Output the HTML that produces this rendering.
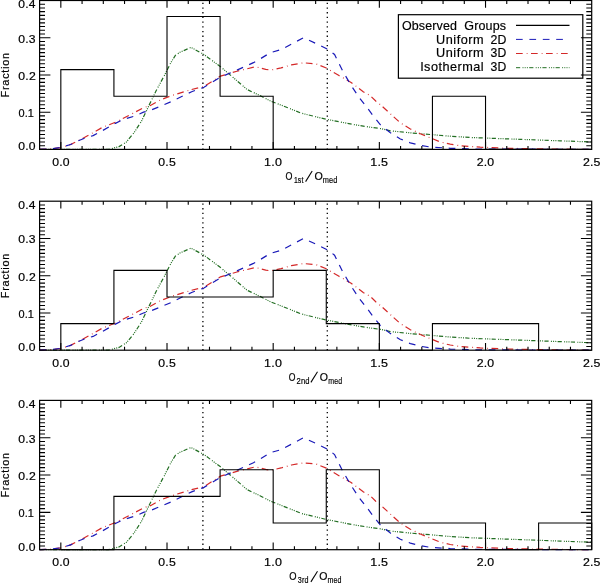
<!DOCTYPE html>
<html><head><meta charset="utf-8"><style>
html,body{margin:0;padding:0;background:#fff;width:600px;height:583px;overflow:hidden}
svg{display:block;will-change:transform}
text{font-family:"Liberation Sans", sans-serif;fill:#000;stroke:#000;stroke-width:0.18px;font-kerning:none;font-variant-ligatures:none}
</style></head><body>
<svg width="600" height="583" viewBox="0 0 600 583">
<rect width="600" height="583" fill="#fff"/>
<line x1="202.9" y1="2.70" x2="202.9" y2="149.4" stroke="#000" stroke-width="1.3" stroke-dasharray="1.3 3.4"/>
<line x1="327.3" y1="2.70" x2="327.3" y2="149.4" stroke="#000" stroke-width="1.3" stroke-dasharray="1.3 3.4"/>
<polyline points="39.60,149.40 108.40,149.40 119.02,146.61 126.45,141.96 134.09,132.65 141.53,121.11 149.17,105.10 156.60,89.84 164.25,75.69 170.83,62.67 175.50,55.22 179.96,52.24 191.00,47.40 203.96,54.48 220.52,66.76 232.84,77.18 247.06,89.47 260.44,95.80 270.42,101.01 281.04,105.10 301.64,113.29 326.27,119.25 353.02,124.46 370.44,127.25 380.42,128.55 390.40,130.79 410.36,132.83 430.32,134.51 450.28,136.22 470.24,137.49 490.20,138.23 520.35,139.35 560.27,140.84 591.70,141.96" fill="none" stroke="#226e22" stroke-width="1.2" stroke-dasharray="4.2 2.3 1 1.2 1 1.2 1 1.3"/>
<polyline points="39.60,149.40 50.22,149.03 60.83,147.54 70.60,144.56 81.64,138.98 93.11,132.65 102.24,127.44 107.98,125.20 115.41,122.23 122.84,118.50 135.16,112.18 143.44,107.71 150.44,105.47 160.42,99.89 171.04,95.80 191.64,89.47 203.96,86.49 220.52,76.07 236.87,71.23 255.56,66.76 265.75,69.37 270.84,70.11 281.04,67.88 291.44,64.90 303.55,62.81 316.07,63.89 326.27,68.03 338.58,75.32 351.11,82.40 363.22,91.70 370.44,95.80 375.74,101.01 380.42,104.73 390.40,113.85 400.38,122.82 410.36,128.93 420.34,133.77 430.32,137.86 440.30,141.96 450.28,144.19 460.26,145.79 480.22,147.17 506.76,148.28 549.23,149.03 591.70,149.40" fill="none" stroke="#d42828" stroke-width="1.2" stroke-dasharray="6.7 4 0.8 3.5"/>
<polyline points="39.60,149.40 50.22,149.03 60.83,147.54 70.60,144.56 78.03,140.84 85.47,137.86 93.11,135.63 102.24,130.79 115.41,123.34 122.84,119.62 135.16,115.90 143.44,112.18 150.44,110.31 160.42,106.22 171.04,101.75 191.64,91.70 203.96,87.23 220.52,77.18 236.87,70.11 253.43,62.67 260.44,58.72 270.42,52.61 281.04,49.64 292.29,43.68 303.55,37.73 317.99,44.43 328.39,49.64 334.55,54.48 342.83,71.23 351.11,85.37 359.18,97.66 367.46,108.08 372.35,114.78 380.42,124.83 390.40,132.83 400.38,138.98 410.36,142.81 420.34,145.42 430.32,147.02 450.28,148.28 474.91,149.03 591.70,149.40" fill="none" stroke="#1a1ab8" stroke-width="1.2" stroke-dasharray="6.7 6.7"/>
<path d="M60.83,149.40 L60.83,69.63 L113.92,69.63 L113.92,96.22 L167.01,96.22 L167.01,16.45 L220.09,16.45 L220.09,96.22 L273.18,96.22 L273.18,149.40 L326.27,149.40 L326.27,149.40 L379.35,149.40 L379.35,149.40 L432.44,149.40 L432.44,96.22 L485.53,96.22 L485.53,149.40 L538.61,149.40 L538.61,149.40 L591.70,149.40 L591.70,149.40" fill="none" stroke="#000" stroke-width="1.1"/>
<rect x="39.6" y="0.5" width="552.10" height="148.90" fill="none" stroke="#000" stroke-width="1.2"/>
<path d="M39.6,145.68h5.4M591.7,145.68h-5.4M39.6,141.96h5.4M591.7,141.96h-5.4M39.6,138.23h5.4M591.7,138.23h-5.4M39.6,134.51h5.4M591.7,134.51h-5.4M39.6,130.79h5.4M591.7,130.79h-5.4M39.6,127.07h5.4M591.7,127.07h-5.4M39.6,123.34h5.4M591.7,123.34h-5.4M39.6,119.62h5.4M591.7,119.62h-5.4M39.6,115.90h5.4M591.7,115.90h-5.4M39.6,112.18h10.8M591.7,112.18h-10.8M39.6,108.45h5.4M591.7,108.45h-5.4M39.6,104.73h5.4M591.7,104.73h-5.4M39.6,101.01h5.4M591.7,101.01h-5.4M39.6,97.28h5.4M591.7,97.28h-5.4M39.6,93.56h5.4M591.7,93.56h-5.4M39.6,89.84h5.4M591.7,89.84h-5.4M39.6,86.12h5.4M591.7,86.12h-5.4M39.6,82.40h5.4M591.7,82.40h-5.4M39.6,78.67h5.4M591.7,78.67h-5.4M39.6,74.95h10.8M591.7,74.95h-10.8M39.6,71.23h5.4M591.7,71.23h-5.4M39.6,67.51h5.4M591.7,67.51h-5.4M39.6,63.78h5.4M591.7,63.78h-5.4M39.6,60.06h5.4M591.7,60.06h-5.4M39.6,56.34h5.4M591.7,56.34h-5.4M39.6,52.61h5.4M591.7,52.61h-5.4M39.6,48.89h5.4M591.7,48.89h-5.4M39.6,45.17h5.4M591.7,45.17h-5.4M39.6,41.45h5.4M591.7,41.45h-5.4M39.6,37.73h10.8M591.7,37.73h-10.8M39.6,34.00h5.4M591.7,34.00h-5.4M39.6,30.28h5.4M591.7,30.28h-5.4M39.6,26.56h5.4M591.7,26.56h-5.4M39.6,22.83h5.4M591.7,22.83h-5.4M39.6,19.11h5.4M591.7,19.11h-5.4M39.6,15.39h5.4M591.7,15.39h-5.4M39.6,11.67h5.4M591.7,11.67h-5.4M39.6,7.95h5.4M591.7,7.95h-5.4M39.6,4.22h5.4M591.7,4.22h-5.4M60.83,149.4v-7.3M60.83,0.5v7.3M82.07,149.4v-3.5M82.07,0.5v3.5M103.30,149.4v-3.5M103.30,0.5v3.5M124.54,149.4v-3.5M124.54,0.5v3.5M145.77,149.4v-3.5M145.77,0.5v3.5M167.01,149.4v-7.3M167.01,0.5v7.3M188.24,149.4v-3.5M188.24,0.5v3.5M209.48,149.4v-3.5M209.48,0.5v3.5M230.71,149.4v-3.5M230.71,0.5v3.5M251.95,149.4v-3.5M251.95,0.5v3.5M273.18,149.4v-7.3M273.18,0.5v7.3M294.42,149.4v-3.5M294.42,0.5v3.5M315.65,149.4v-3.5M315.65,0.5v3.5M336.88,149.4v-3.5M336.88,0.5v3.5M358.12,149.4v-3.5M358.12,0.5v3.5M379.35,149.4v-7.3M379.35,0.5v7.3M400.59,149.4v-3.5M400.59,0.5v3.5M421.82,149.4v-3.5M421.82,0.5v3.5M443.06,149.4v-3.5M443.06,0.5v3.5M464.29,149.4v-3.5M464.29,0.5v3.5M485.53,149.4v-7.3M485.53,0.5v7.3M506.76,149.4v-3.5M506.76,0.5v3.5M528.00,149.4v-3.5M528.00,0.5v3.5M549.23,149.4v-3.5M549.23,0.5v3.5M570.47,149.4v-3.5M570.47,0.5v3.5" stroke="#000" stroke-width="1.1" fill="none"/>
<text transform="translate(18.80,150.20) scale(1.1473,1)" x="-0.41" y="0" font-size="10.6" letter-spacing="0.150">0.0</text>
<text transform="translate(18.80,116.98) scale(1.0352,1)" x="-0.41" y="0" font-size="10.6" letter-spacing="0.150">0.1</text>
<text transform="translate(18.80,79.75) scale(1.1570,1)" x="-0.41" y="0" font-size="10.6" letter-spacing="0.150">0.2</text>
<text transform="translate(18.80,42.53) scale(1.1515,1)" x="-0.41" y="0" font-size="10.6" letter-spacing="0.150">0.3</text>
<text transform="translate(18.80,8.30) scale(1.1390,1)" x="-0.41" y="0" font-size="10.6" letter-spacing="0.150">0.4</text>
<text transform="translate(52.63,165.70) scale(1.1543,1)" x="-0.41" y="0" font-size="10.6" letter-spacing="0.150">0.0</text>
<text transform="translate(158.81,165.70) scale(1.1569,1)" x="-0.41" y="0" font-size="10.6" letter-spacing="0.150">0.5</text>
<text transform="translate(264.98,165.70) scale(1.1800,1)" x="-0.81" y="0" font-size="10.6" letter-spacing="0.192">1.0</text>
<text transform="translate(371.15,165.70) scale(1.1800,1)" x="-0.81" y="0" font-size="10.6" letter-spacing="0.208">1.5</text>
<text transform="translate(477.33,165.70) scale(1.1641,1)" x="-0.53" y="0" font-size="10.6" letter-spacing="0.150">2.0</text>
<text transform="translate(583.50,165.70) scale(1.1667,1)" x="-0.53" y="0" font-size="10.6" letter-spacing="0.150">2.5</text>
<text transform="translate(8.50,96.55) rotate(-90) scale(1.0500,1)" x="-0.84" y="0" font-size="10.3" letter-spacing="0.751">Fraction</text>
<text transform="translate(285.80,179.80) scale(0.8592,1)" x="-0.49" y="0" font-size="10.4" letter-spacing="0.000">O</text>
<text transform="translate(294.40,182.80) scale(0.7873,1)" x="-0.67" y="0" font-size="8.8" letter-spacing="0.150">1st</text>
<line x1="305.60" y1="181.60" x2="312.20" y2="171.00" stroke="#000" stroke-width="1.05"/>
<text transform="translate(314.90,179.80) scale(1.0283,1)" x="-0.49" y="0" font-size="10.4" letter-spacing="0.000">O</text>
<text transform="translate(323.20,182.80) scale(0.8360,1)" x="-0.58" y="0" font-size="8.8" letter-spacing="0.150">med</text>
<line x1="202.9" y1="203.40" x2="202.9" y2="350.2" stroke="#000" stroke-width="1.3" stroke-dasharray="1.3 3.4"/>
<line x1="327.3" y1="203.40" x2="327.3" y2="350.2" stroke="#000" stroke-width="1.3" stroke-dasharray="1.3 3.4"/>
<polyline points="39.60,350.20 108.40,350.20 119.02,347.41 126.45,342.75 134.09,333.44 141.53,321.89 149.17,305.87 156.60,290.60 164.25,276.44 170.83,263.41 175.50,255.96 179.96,252.98 191.00,248.13 203.96,255.21 220.52,267.50 232.84,277.94 247.06,290.23 260.44,296.56 270.42,301.77 281.04,305.87 301.64,314.07 326.27,320.03 353.02,325.24 370.44,328.04 380.42,329.34 390.40,331.57 410.36,333.62 430.32,335.30 450.28,337.01 470.24,338.28 490.20,339.02 520.35,340.14 560.27,341.63 591.70,342.75" fill="none" stroke="#226e22" stroke-width="1.2" stroke-dasharray="4.2 2.3 1 1.2 1 1.2 1 1.3"/>
<polyline points="39.60,350.20 50.22,349.83 60.83,348.34 70.60,345.36 81.64,339.77 93.11,333.44 102.24,328.22 107.98,325.99 115.41,323.01 122.84,319.28 135.16,312.95 143.44,308.48 150.44,306.25 160.42,300.66 171.04,296.56 191.64,290.23 203.96,287.25 220.52,276.82 236.87,271.98 255.56,267.50 265.75,270.11 270.84,270.86 281.04,268.62 291.44,265.64 303.55,263.56 316.07,264.64 326.27,268.77 338.58,276.07 351.11,283.15 363.22,292.46 370.44,296.56 375.74,301.77 380.42,305.50 390.40,314.63 400.38,323.60 410.36,329.71 420.34,334.56 430.32,338.65 440.30,342.75 450.28,344.99 460.26,346.59 480.22,347.96 506.76,349.08 549.23,349.83 591.70,350.20" fill="none" stroke="#d42828" stroke-width="1.2" stroke-dasharray="6.7 4 0.8 3.5"/>
<polyline points="39.60,350.20 50.22,349.83 60.83,348.34 70.60,345.36 78.03,341.63 85.47,338.65 93.11,336.42 102.24,331.57 115.41,324.12 122.84,320.40 135.16,316.68 143.44,312.95 150.44,311.09 160.42,306.99 171.04,302.52 191.64,292.46 203.96,287.99 220.52,277.94 236.87,270.86 253.43,263.41 260.44,259.46 270.42,253.35 281.04,250.37 292.29,244.41 303.55,238.45 317.99,245.16 328.39,250.37 334.55,255.21 342.83,271.98 351.11,286.13 359.18,298.42 367.46,308.85 372.35,315.56 380.42,325.62 390.40,333.62 400.38,339.77 410.36,343.61 420.34,346.21 430.32,347.82 450.28,349.08 474.91,349.83 591.70,350.20" fill="none" stroke="#1a1ab8" stroke-width="1.2" stroke-dasharray="6.7 6.7"/>
<path d="M60.83,350.20 L60.83,323.59 L113.92,323.59 L113.92,270.38 L167.01,270.38 L167.01,296.99 L220.09,296.99 L220.09,296.99 L273.18,296.99 L273.18,270.38 L326.27,270.38 L326.27,323.59 L379.35,323.59 L379.35,350.20 L432.44,350.20 L432.44,323.59 L485.53,323.59 L485.53,323.59 L538.61,323.59 L538.61,350.20 L591.70,350.20 L591.70,350.20" fill="none" stroke="#000" stroke-width="1.1"/>
<rect x="39.6" y="201.2" width="552.10" height="149.00" fill="none" stroke="#000" stroke-width="1.2"/>
<path d="M39.6,346.47h5.4M591.7,346.47h-5.4M39.6,342.75h5.4M591.7,342.75h-5.4M39.6,339.02h5.4M591.7,339.02h-5.4M39.6,335.30h5.4M591.7,335.30h-5.4M39.6,331.57h5.4M591.7,331.57h-5.4M39.6,327.85h5.4M591.7,327.85h-5.4M39.6,324.12h5.4M591.7,324.12h-5.4M39.6,320.40h5.4M591.7,320.40h-5.4M39.6,316.68h5.4M591.7,316.68h-5.4M39.6,312.95h10.8M591.7,312.95h-10.8M39.6,309.22h5.4M591.7,309.22h-5.4M39.6,305.50h5.4M591.7,305.50h-5.4M39.6,301.77h5.4M591.7,301.77h-5.4M39.6,298.05h5.4M591.7,298.05h-5.4M39.6,294.32h5.4M591.7,294.32h-5.4M39.6,290.60h5.4M591.7,290.60h-5.4M39.6,286.88h5.4M591.7,286.88h-5.4M39.6,283.15h5.4M591.7,283.15h-5.4M39.6,279.43h5.4M591.7,279.43h-5.4M39.6,275.70h10.8M591.7,275.70h-10.8M39.6,271.98h5.4M591.7,271.98h-5.4M39.6,268.25h5.4M591.7,268.25h-5.4M39.6,264.52h5.4M591.7,264.52h-5.4M39.6,260.80h5.4M591.7,260.80h-5.4M39.6,257.07h5.4M591.7,257.07h-5.4M39.6,253.35h5.4M591.7,253.35h-5.4M39.6,249.62h5.4M591.7,249.62h-5.4M39.6,245.90h5.4M591.7,245.90h-5.4M39.6,242.18h5.4M591.7,242.18h-5.4M39.6,238.45h10.8M591.7,238.45h-10.8M39.6,234.72h5.4M591.7,234.72h-5.4M39.6,231.00h5.4M591.7,231.00h-5.4M39.6,227.27h5.4M591.7,227.27h-5.4M39.6,223.55h5.4M591.7,223.55h-5.4M39.6,219.82h5.4M591.7,219.82h-5.4M39.6,216.10h5.4M591.7,216.10h-5.4M39.6,212.38h5.4M591.7,212.38h-5.4M39.6,208.65h5.4M591.7,208.65h-5.4M39.6,204.93h5.4M591.7,204.93h-5.4M60.83,350.2v-7.3M60.83,201.2v7.3M82.07,350.2v-3.5M82.07,201.2v3.5M103.30,350.2v-3.5M103.30,201.2v3.5M124.54,350.2v-3.5M124.54,201.2v3.5M145.77,350.2v-3.5M145.77,201.2v3.5M167.01,350.2v-7.3M167.01,201.2v7.3M188.24,350.2v-3.5M188.24,201.2v3.5M209.48,350.2v-3.5M209.48,201.2v3.5M230.71,350.2v-3.5M230.71,201.2v3.5M251.95,350.2v-3.5M251.95,201.2v3.5M273.18,350.2v-7.3M273.18,201.2v7.3M294.42,350.2v-3.5M294.42,201.2v3.5M315.65,350.2v-3.5M315.65,201.2v3.5M336.88,350.2v-3.5M336.88,201.2v3.5M358.12,350.2v-3.5M358.12,201.2v3.5M379.35,350.2v-7.3M379.35,201.2v7.3M400.59,350.2v-3.5M400.59,201.2v3.5M421.82,350.2v-3.5M421.82,201.2v3.5M443.06,350.2v-3.5M443.06,201.2v3.5M464.29,350.2v-3.5M464.29,201.2v3.5M485.53,350.2v-7.3M485.53,201.2v7.3M506.76,350.2v-3.5M506.76,201.2v3.5M528.00,350.2v-3.5M528.00,201.2v3.5M549.23,350.2v-3.5M549.23,201.2v3.5M570.47,350.2v-3.5M570.47,201.2v3.5" stroke="#000" stroke-width="1.1" fill="none"/>
<text transform="translate(18.80,351.00) scale(1.1473,1)" x="-0.41" y="0" font-size="10.6" letter-spacing="0.150">0.0</text>
<text transform="translate(18.80,317.75) scale(1.0352,1)" x="-0.41" y="0" font-size="10.6" letter-spacing="0.150">0.1</text>
<text transform="translate(18.80,280.50) scale(1.1570,1)" x="-0.41" y="0" font-size="10.6" letter-spacing="0.150">0.2</text>
<text transform="translate(18.80,243.25) scale(1.1515,1)" x="-0.41" y="0" font-size="10.6" letter-spacing="0.150">0.3</text>
<text transform="translate(18.80,209.00) scale(1.1390,1)" x="-0.41" y="0" font-size="10.6" letter-spacing="0.150">0.4</text>
<text transform="translate(52.63,366.50) scale(1.1543,1)" x="-0.41" y="0" font-size="10.6" letter-spacing="0.150">0.0</text>
<text transform="translate(158.81,366.50) scale(1.1569,1)" x="-0.41" y="0" font-size="10.6" letter-spacing="0.150">0.5</text>
<text transform="translate(264.98,366.50) scale(1.1800,1)" x="-0.81" y="0" font-size="10.6" letter-spacing="0.192">1.0</text>
<text transform="translate(371.15,366.50) scale(1.1800,1)" x="-0.81" y="0" font-size="10.6" letter-spacing="0.208">1.5</text>
<text transform="translate(477.33,366.50) scale(1.1641,1)" x="-0.53" y="0" font-size="10.6" letter-spacing="0.150">2.0</text>
<text transform="translate(583.50,366.50) scale(1.1667,1)" x="-0.53" y="0" font-size="10.6" letter-spacing="0.150">2.5</text>
<text transform="translate(8.50,297.30) rotate(-90) scale(1.0500,1)" x="-0.84" y="0" font-size="10.3" letter-spacing="0.751">Fraction</text>
<text transform="translate(289.10,380.60) scale(0.8311,1)" x="-0.49" y="0" font-size="10.4" letter-spacing="0.000">O</text>
<text transform="translate(297.00,383.60) scale(0.8660,1)" x="-0.44" y="0" font-size="8.8" letter-spacing="0.150">2nd</text>
<line x1="310.90" y1="382.40" x2="317.50" y2="371.80" stroke="#000" stroke-width="1.05"/>
<text transform="translate(320.30,380.60) scale(1.0142,1)" x="-0.49" y="0" font-size="10.4" letter-spacing="0.000">O</text>
<text transform="translate(328.70,383.60) scale(0.7930,1)" x="-0.58" y="0" font-size="8.8" letter-spacing="0.150">med</text>
<line x1="202.9" y1="402.60" x2="202.9" y2="549.7" stroke="#000" stroke-width="1.3" stroke-dasharray="1.3 3.4"/>
<line x1="327.3" y1="402.60" x2="327.3" y2="549.7" stroke="#000" stroke-width="1.3" stroke-dasharray="1.3 3.4"/>
<polyline points="39.60,549.70 108.40,549.70 119.02,546.90 126.45,542.24 134.09,532.90 141.53,521.33 149.17,505.28 156.60,489.98 164.25,475.80 170.83,462.73 175.50,455.27 179.96,452.28 191.00,447.43 203.96,454.52 220.52,466.84 232.84,477.29 247.06,489.61 260.44,495.95 270.42,501.18 281.04,505.28 301.64,513.49 326.27,519.47 353.02,524.69 370.44,527.49 380.42,528.80 390.40,531.04 410.36,533.09 430.32,534.77 450.28,536.49 470.24,537.76 490.20,538.50 520.35,539.62 560.27,541.12 591.70,542.24" fill="none" stroke="#226e22" stroke-width="1.2" stroke-dasharray="4.2 2.3 1 1.2 1 1.2 1 1.3"/>
<polyline points="39.60,549.70 50.22,549.33 60.83,547.83 70.60,544.85 81.64,539.25 93.11,532.90 102.24,527.68 107.98,525.44 115.41,522.45 122.84,518.72 135.16,512.38 143.44,507.90 150.44,505.66 160.42,500.06 171.04,495.95 191.64,489.61 203.96,486.62 220.52,476.17 236.87,471.32 255.56,466.84 265.75,469.45 270.84,470.20 281.04,467.96 291.44,464.97 303.55,462.88 316.07,463.96 326.27,468.11 338.58,475.42 351.11,482.51 363.22,491.85 370.44,495.95 375.74,501.18 380.42,504.91 390.40,514.05 400.38,523.05 410.36,529.17 420.34,534.02 430.32,538.13 440.30,542.24 450.28,544.47 460.26,546.08 480.22,547.46 506.76,548.58 549.23,549.33 591.70,549.70" fill="none" stroke="#d42828" stroke-width="1.2" stroke-dasharray="6.7 4 0.8 3.5"/>
<polyline points="39.60,549.70 50.22,549.33 60.83,547.83 70.60,544.85 78.03,541.12 85.47,538.13 93.11,535.89 102.24,531.04 115.41,523.57 122.84,519.84 135.16,516.11 143.44,512.38 150.44,510.51 160.42,506.40 171.04,501.92 191.64,491.85 203.96,487.37 220.52,477.29 236.87,470.20 253.43,462.73 260.44,458.78 270.42,452.65 281.04,449.67 292.29,443.70 303.55,437.73 317.99,444.44 328.39,449.67 334.55,454.52 342.83,471.32 351.11,485.50 359.18,497.82 367.46,508.27 372.35,514.99 380.42,525.07 390.40,533.09 400.38,539.25 410.36,543.09 420.34,545.71 430.32,547.31 450.28,548.58 474.91,549.33 591.70,549.70" fill="none" stroke="#1a1ab8" stroke-width="1.2" stroke-dasharray="6.7 6.7"/>
<path d="M60.83,549.70 L60.83,549.70 L113.92,549.70 L113.92,496.38 L167.01,496.38 L167.01,496.38 L220.09,496.38 L220.09,469.72 L273.18,469.72 L273.18,523.04 L326.27,523.04 L326.27,469.72 L379.35,469.72 L379.35,523.04 L432.44,523.04 L432.44,523.04 L485.53,523.04 L485.53,549.70 L538.61,549.70 L538.61,523.04 L591.70,523.04 L591.70,549.70" fill="none" stroke="#000" stroke-width="1.1"/>
<rect x="39.6" y="400.4" width="552.10" height="149.30" fill="none" stroke="#000" stroke-width="1.2"/>
<path d="M39.6,545.97h5.4M591.7,545.97h-5.4M39.6,542.24h5.4M591.7,542.24h-5.4M39.6,538.50h5.4M591.7,538.50h-5.4M39.6,534.77h5.4M591.7,534.77h-5.4M39.6,531.04h5.4M591.7,531.04h-5.4M39.6,527.31h5.4M591.7,527.31h-5.4M39.6,523.57h5.4M591.7,523.57h-5.4M39.6,519.84h5.4M591.7,519.84h-5.4M39.6,516.11h5.4M591.7,516.11h-5.4M39.6,512.38h10.8M591.7,512.38h-10.8M39.6,508.64h5.4M591.7,508.64h-5.4M39.6,504.91h5.4M591.7,504.91h-5.4M39.6,501.18h5.4M591.7,501.18h-5.4M39.6,497.45h5.4M591.7,497.45h-5.4M39.6,493.71h5.4M591.7,493.71h-5.4M39.6,489.98h5.4M591.7,489.98h-5.4M39.6,486.25h5.4M591.7,486.25h-5.4M39.6,482.51h5.4M591.7,482.51h-5.4M39.6,478.78h5.4M591.7,478.78h-5.4M39.6,475.05h10.8M591.7,475.05h-10.8M39.6,471.32h5.4M591.7,471.32h-5.4M39.6,467.59h5.4M591.7,467.59h-5.4M39.6,463.85h5.4M591.7,463.85h-5.4M39.6,460.12h5.4M591.7,460.12h-5.4M39.6,456.39h5.4M591.7,456.39h-5.4M39.6,452.65h5.4M591.7,452.65h-5.4M39.6,448.92h5.4M591.7,448.92h-5.4M39.6,445.19h5.4M591.7,445.19h-5.4M39.6,441.46h5.4M591.7,441.46h-5.4M39.6,437.73h10.8M591.7,437.73h-10.8M39.6,433.99h5.4M591.7,433.99h-5.4M39.6,430.26h5.4M591.7,430.26h-5.4M39.6,426.53h5.4M591.7,426.53h-5.4M39.6,422.79h5.4M591.7,422.79h-5.4M39.6,419.06h5.4M591.7,419.06h-5.4M39.6,415.33h5.4M591.7,415.33h-5.4M39.6,411.60h5.4M591.7,411.60h-5.4M39.6,407.87h5.4M591.7,407.87h-5.4M39.6,404.13h5.4M591.7,404.13h-5.4M60.83,549.7v-7.3M60.83,400.4v7.3M82.07,549.7v-3.5M82.07,400.4v3.5M103.30,549.7v-3.5M103.30,400.4v3.5M124.54,549.7v-3.5M124.54,400.4v3.5M145.77,549.7v-3.5M145.77,400.4v3.5M167.01,549.7v-7.3M167.01,400.4v7.3M188.24,549.7v-3.5M188.24,400.4v3.5M209.48,549.7v-3.5M209.48,400.4v3.5M230.71,549.7v-3.5M230.71,400.4v3.5M251.95,549.7v-3.5M251.95,400.4v3.5M273.18,549.7v-7.3M273.18,400.4v7.3M294.42,549.7v-3.5M294.42,400.4v3.5M315.65,549.7v-3.5M315.65,400.4v3.5M336.88,549.7v-3.5M336.88,400.4v3.5M358.12,549.7v-3.5M358.12,400.4v3.5M379.35,549.7v-7.3M379.35,400.4v7.3M400.59,549.7v-3.5M400.59,400.4v3.5M421.82,549.7v-3.5M421.82,400.4v3.5M443.06,549.7v-3.5M443.06,400.4v3.5M464.29,549.7v-3.5M464.29,400.4v3.5M485.53,549.7v-7.3M485.53,400.4v7.3M506.76,549.7v-3.5M506.76,400.4v3.5M528.00,549.7v-3.5M528.00,400.4v3.5M549.23,549.7v-3.5M549.23,400.4v3.5M570.47,549.7v-3.5M570.47,400.4v3.5" stroke="#000" stroke-width="1.1" fill="none"/>
<text transform="translate(18.80,550.50) scale(1.1473,1)" x="-0.41" y="0" font-size="10.6" letter-spacing="0.150">0.0</text>
<text transform="translate(18.80,517.18) scale(1.0352,1)" x="-0.41" y="0" font-size="10.6" letter-spacing="0.150">0.1</text>
<text transform="translate(18.80,479.85) scale(1.1570,1)" x="-0.41" y="0" font-size="10.6" letter-spacing="0.150">0.2</text>
<text transform="translate(18.80,442.53) scale(1.1515,1)" x="-0.41" y="0" font-size="10.6" letter-spacing="0.150">0.3</text>
<text transform="translate(18.80,408.20) scale(1.1390,1)" x="-0.41" y="0" font-size="10.6" letter-spacing="0.150">0.4</text>
<text transform="translate(52.63,566.00) scale(1.1543,1)" x="-0.41" y="0" font-size="10.6" letter-spacing="0.150">0.0</text>
<text transform="translate(158.81,566.00) scale(1.1569,1)" x="-0.41" y="0" font-size="10.6" letter-spacing="0.150">0.5</text>
<text transform="translate(264.98,566.00) scale(1.1800,1)" x="-0.81" y="0" font-size="10.6" letter-spacing="0.192">1.0</text>
<text transform="translate(371.15,566.00) scale(1.1800,1)" x="-0.81" y="0" font-size="10.6" letter-spacing="0.208">1.5</text>
<text transform="translate(477.33,566.00) scale(1.1641,1)" x="-0.53" y="0" font-size="10.6" letter-spacing="0.150">2.0</text>
<text transform="translate(583.50,566.00) scale(1.1667,1)" x="-0.53" y="0" font-size="10.6" letter-spacing="0.150">2.5</text>
<text transform="translate(8.50,496.65) rotate(-90) scale(1.0500,1)" x="-0.84" y="0" font-size="10.3" letter-spacing="0.751">Fraction</text>
<text transform="translate(289.70,580.10) scale(0.9015,1)" x="-0.49" y="0" font-size="10.4" letter-spacing="0.000">O</text>
<text transform="translate(298.10,583.10) scale(0.8171,1)" x="-0.34" y="0" font-size="8.8" letter-spacing="0.150">3rd</text>
<line x1="310.90" y1="581.90" x2="317.50" y2="571.30" stroke="#000" stroke-width="1.05"/>
<text transform="translate(319.70,580.10) scale(1.0142,1)" x="-0.49" y="0" font-size="10.4" letter-spacing="0.000">O</text>
<text transform="translate(327.90,583.10) scale(0.8053,1)" x="-0.58" y="0" font-size="8.8" letter-spacing="0.150">med</text>
<rect x="398.4" y="14.7" width="184.4" height="63.5" fill="none" stroke="#000" stroke-width="1.2"/>
<text transform="translate(402.50,29.50) scale(1.0380,1)" x="-0.57" y="0" font-size="12.0" letter-spacing="0.150">Observed</text>
<text transform="translate(464.90,29.50) scale(1.0444,1)" x="-0.60" y="0" font-size="12.0" letter-spacing="0.150">Groups</text>
<text transform="translate(437.10,43.50) scale(1.0600,1)" x="-0.93" y="0" font-size="12.0" letter-spacing="0.471">Uniform</text>
<text transform="translate(491.00,43.50) scale(1.0271,1)" x="-0.60" y="0" font-size="12.0" letter-spacing="0.150">2D</text>
<text transform="translate(437.10,57.20) scale(1.0600,1)" x="-0.93" y="0" font-size="12.0" letter-spacing="0.471">Uniform</text>
<text transform="translate(491.00,57.20) scale(1.0167,1)" x="-0.46" y="0" font-size="12.0" letter-spacing="0.150">3D</text>
<text transform="translate(421.30,71.00) scale(1.0600,1)" x="-1.11" y="0" font-size="12.0" letter-spacing="0.434">Isothermal</text>
<text transform="translate(491.00,71.00) scale(1.0167,1)" x="-0.46" y="0" font-size="12.0" letter-spacing="0.150">3D</text>
<line x1="516" y1="25.4" x2="569.5" y2="25.4" stroke="#000" stroke-width="1.1"/>
<line x1="516" y1="39.4" x2="569.5" y2="39.4" stroke="#1a1ab8" stroke-width="1" stroke-dasharray="6.7 6.7"/>
<line x1="516" y1="53.5" x2="569.5" y2="53.5" stroke="#d42828" stroke-width="1" stroke-dasharray="6.7 4 0.8 3.5"/>
<line x1="516" y1="67.7" x2="569.5" y2="67.7" stroke="#226e22" stroke-width="1" stroke-dasharray="4.2 2.3 1 1.2 1 1.2 1 1.3"/>
</svg>
</body></html>
